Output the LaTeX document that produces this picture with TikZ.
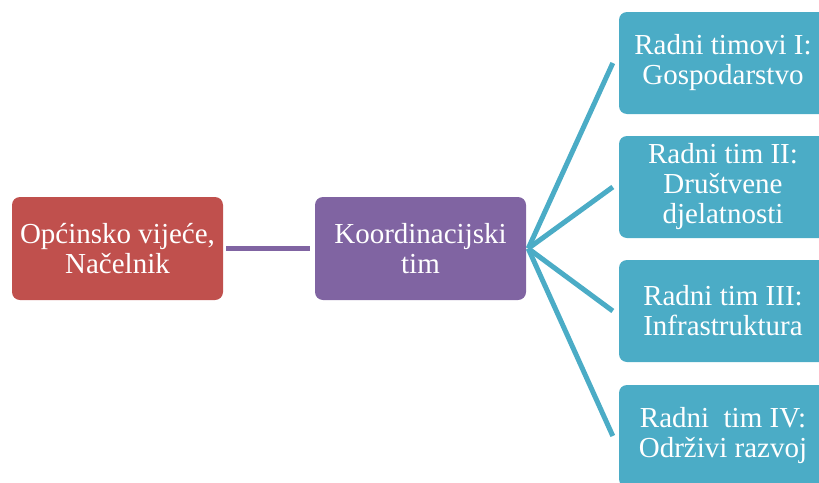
\documentclass[tikz,border=0pt]{standalone}
\usepackage{fontspec}
\setmainfont{Liberation Serif}
\definecolor{cred}{HTML}{C0504D}
\definecolor{cpurple}{HTML}{8064A2}
\definecolor{cblue}{HTML}{4BACC6}
\tikzset{
  box/.style={draw=none, rounded corners=8pt, minimum width=211pt, minimum height=103pt,
    inner sep=0pt, align=center, text=white,
    font=\fontsize{29}{30}\selectfont},
  redbox/.style={box, fill=cred},
  purplebox/.style={box, fill=cpurple},
  bluebox/.style={box, fill=cblue, minimum width=208pt, minimum height=102pt},
  link/.style={line width=5pt},
}
\begin{document}
\begin{tikzpicture}[x=1pt,y=-1pt]
\useasboundingbox (0,0) rectangle (819,482);
\clip (0,0) rectangle (819,482);
\node[redbox] (o) at (117.5,248.5) {Općinsko vijeće,\\Načelnik};
\node[purplebox] (k) at (420.5,248.5) {Koordinacijski\\tim};
\node[bluebox] (b1) at (723,63) {Radni timovi I:\\Gospodarstvo};
\node[bluebox] (b2) at (723,187) {Radni tim II:\\Društvene\\djelatnosti};
\node[bluebox] (b3) at (723,311) {Radni tim III:\\Infrastruktura};
\node[bluebox] (b4) at (723,436) {Radni\ \ tim IV:\\Održivi razvoj};
\draw[link, cpurple] ([xshift=3pt]o.east) -- ([xshift=-5pt]k.west);
\foreach \b in {b1,b2,b3,b4}
  \draw[link, cblue] ([xshift=2pt]k.east) -- ([xshift=-6pt]\b.west);
\end{tikzpicture}
\end{document}
